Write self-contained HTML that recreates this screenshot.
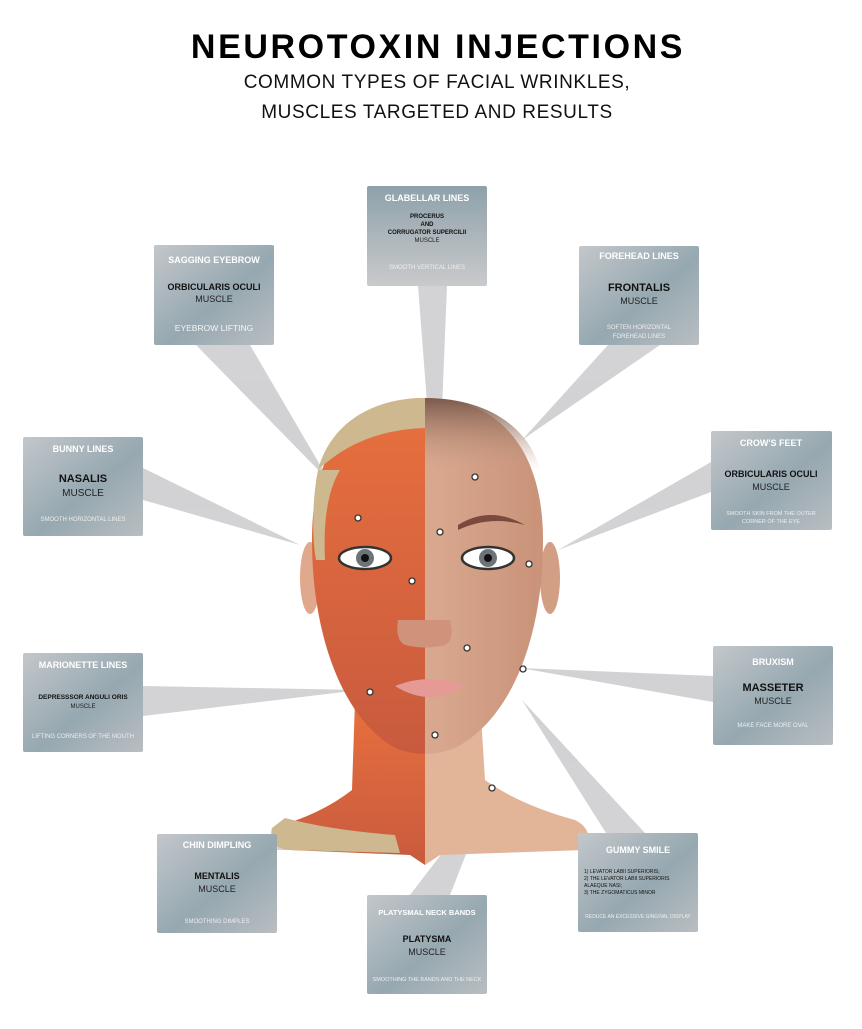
<!DOCTYPE html>
<html><head><meta charset="utf-8"><style>
body{margin:0;background:#fff;width:862px;height:1024px;overflow:hidden;font-family:"Liberation Sans",sans-serif}
</style></head><body>
<svg width="862" height="1024" viewBox="0 0 862 1024" xmlns="http://www.w3.org/2000/svg" font-family="Liberation Sans, sans-serif">
<defs>
<linearGradient id="bx" x1="0" y1="0" x2="1" y2="1">
<stop offset="0" stop-color="#c3c7cb"/><stop offset="0.55" stop-color="#96a8b0"/><stop offset="1" stop-color="#b9bec2"/></linearGradient>
<linearGradient id="bxv" x1="0" y1="0" x2="0" y2="1">
<stop offset="0" stop-color="#8ea1aa"/><stop offset="1" stop-color="#c9cacc"/></linearGradient>
<linearGradient id="mus" x1="0" y1="0" x2="0" y2="1">
<stop offset="0" stop-color="#e8703e"/><stop offset="1" stop-color="#c85a3e"/></linearGradient>
<linearGradient id="skin" x1="0" y1="0" x2="1" y2="0">
<stop offset="0" stop-color="#e9c0a5"/><stop offset="1" stop-color="#c99279"/></linearGradient>
<linearGradient id="top" x1="0" y1="0" x2="0" y2="1">
<stop offset="0" stop-color="#7a5a4c"/><stop offset="1" stop-color="#c79c86" stop-opacity="0"/></linearGradient>
<clipPath id="L"><rect x="0" y="0" width="425" height="1024"/></clipPath>
<clipPath id="R"><rect x="425" y="0" width="437" height="1024"/></clipPath>
</defs>
<text x="438" y="58" text-anchor="middle" font-size="34" font-weight="bold" fill="#000" letter-spacing="2.6">NEUROTOXIN INJECTIONS</text>
<text x="437" y="88" text-anchor="middle" font-size="19" fill="#111" letter-spacing="0.6">COMMON TYPES OF FACIAL WRINKLES,</text>
<text x="437" y="118" text-anchor="middle" font-size="19" fill="#111" letter-spacing="0.6">MUSCLES TARGETED AND RESULTS</text>

<g fill="#c8c8ca" opacity="0.8">
<polygon points="418,286 447,286 437,532"/>
<polygon points="196,345 250,345 330,482"/>
<polygon points="608,345 660,345 522,440"/>
<polygon points="143,468 143,500 300,545"/>
<polygon points="711,462 711,492 558,550"/>
<polygon points="143,686 143,716 360,690"/>
<polygon points="713,676 713,702 520,668"/>
<polygon points="260,850 300,850 330,812"/>
<polygon points="410,895 450,895 492,788"/>
<polygon points="606,833 645,833 522,700"/>
</g>

<path d="M355,700 L352,790 Q320,815 272,828 Q268,848 290,850 L410,855 L425,865 L440,855 L585,850 Q595,830 575,820 Q520,805 485,780 L480,700 Z" fill="url(#mus)" clip-path="url(#L)"/>
<path d="M355,700 L352,790 Q320,815 272,828 Q268,848 290,850 L410,855 L425,865 L440,855 L585,850 Q595,830 575,820 Q520,805 485,780 L480,700 Z" fill="#e2b498" clip-path="url(#R)"/>
<path d="M272,828 Q268,848 290,850 L400,853 L395,835 Q330,830 285,818 Z" fill="#cdb890"/>
<ellipse cx="310" cy="578" rx="10" ry="36" fill="#e0a88c"/>
<ellipse cx="550" cy="578" rx="10" ry="36" fill="#d29e84"/>
<path d="M425,398 C350,398 312,450 312,540 C312,640 345,720 395,748 Q425,760 455,748 C510,720 543,640 543,540 C543,450 500,398 425,398 Z" fill="url(#mus)" clip-path="url(#L)"/>
<path d="M425,398 C350,398 312,450 312,540 C312,640 345,720 395,748 Q425,760 455,748 C510,720 543,640 543,540 C543,450 500,398 425,398 Z" fill="url(#skin)" clip-path="url(#R)"/>
<path d="M425,398 C370,398 330,425 318,470 Q360,430 425,428 Z" fill="#cdb890"/>
<path d="M318,470 C312,500 312,540 316,560 L325,560 Q322,500 340,470 Z" fill="#cdb890"/>
<path d="M425,398 C490,398 530,430 540,470 L425,470 Z" fill="url(#top)" clip-path="url(#R)"/>
<path d="M458,525 Q490,505 525,525 Q490,515 458,530 Z" fill="#7a4a3e"/>
<ellipse cx="365" cy="558" rx="26" ry="11" fill="#fff" stroke="#333" stroke-width="2.5"/>
<circle cx="365" cy="558" r="9" fill="#6d7478"/><circle cx="365" cy="558" r="4" fill="#111"/>
<ellipse cx="488" cy="558" rx="26" ry="11" fill="#fff" stroke="#333" stroke-width="2.5"/>
<circle cx="488" cy="558" r="9" fill="#6d7478"/><circle cx="488" cy="558" r="4" fill="#111"/>
<path d="M398,620 Q395,640 405,645 Q425,650 445,645 Q455,640 450,620 Z" fill="#d0927a"/>
<path d="M395,686 Q430,672 465,686 Q430,708 395,686 Z" fill="#e59a96"/>
<g fill="#fff" stroke="#333" stroke-width="1.3">
<circle cx="475" cy="477" r="3"/><circle cx="358" cy="518" r="3"/><circle cx="440" cy="532" r="3"/>
<circle cx="412" cy="581" r="3"/><circle cx="529" cy="564" r="3"/><circle cx="467" cy="648" r="3"/>
<circle cx="523" cy="669" r="3"/><circle cx="370" cy="692" r="3"/><circle cx="435" cy="735" r="3"/>
<circle cx="492" cy="788" r="3"/>
</g>

<g font-size="9" text-anchor="middle">
<rect x="367" y="186" width="120" height="100" rx="2" fill="url(#bxv)"/>
<text x="427" y="201" fill="#fff" font-weight="bold">GLABELLAR LINES</text>
<text x="427" y="218" font-size="6" font-weight="bold" fill="#111">PROCERUS</text>
<text x="427" y="226" font-size="6" font-weight="bold" fill="#111">AND</text>
<text x="427" y="234" font-size="6" font-weight="bold" fill="#111">CORRUGATOR SUPERCILII</text>
<text x="427" y="242" font-size="6" fill="#222">MUSCLE</text>
<text x="427" y="269" font-size="6" fill="#eee">SMOOTH VERTICAL LINES</text>
<rect x="154" y="245" width="120" height="100" rx="2" fill="url(#bx)"/>
<text x="214" y="263" fill="#fff" font-weight="bold">SAGGING EYEBROW</text>
<text x="214" y="290" font-size="9" font-weight="bold" fill="#111">ORBICULARIS OCULI</text>
<text x="214" y="302" font-size="9" fill="#222">MUSCLE</text>
<text x="214" y="331" font-size="8.5" fill="#f4f4f4">EYEBROW LIFTING</text>
<rect x="579" y="246" width="120" height="99" rx="2" fill="url(#bx)"/>
<text x="639" y="259" fill="#fff" font-weight="bold">FOREHEAD LINES</text>
<text x="639" y="291" font-size="11" font-weight="bold" fill="#111">FRONTALIS</text>
<text x="639" y="304" font-size="9" fill="#222">MUSCLE</text>
<text x="639" y="329" font-size="6" fill="#eee">SOFTEN HORIZONTAL</text>
<text x="639" y="338" font-size="6" fill="#eee">FOREHEAD LINES</text>
<rect x="23" y="437" width="120" height="99" rx="2" fill="url(#bx)"/>
<text x="83" y="452" fill="#fff" font-weight="bold">BUNNY LINES</text>
<text x="83" y="482" font-size="11" font-weight="bold" fill="#111">NASALIS</text>
<text x="83" y="496" font-size="10" fill="#222">MUSCLE</text>
<text x="83" y="521" font-size="6" fill="#eee">SMOOTH HORIZONTAL LINES</text>
<rect x="711" y="431" width="121" height="99" rx="2" fill="url(#bx)"/>
<text x="771" y="446" fill="#fff" font-weight="bold">CROW'S FEET</text>
<text x="771" y="477" font-size="9" font-weight="bold" fill="#111">ORBICULARIS OCULI</text>
<text x="771" y="490" font-size="9" fill="#222">MUSCLE</text>
<text x="771" y="515" font-size="5.5" fill="#eee">SMOOTH SKIN FROM THE OUTER</text>
<text x="771" y="523" font-size="5.5" fill="#eee">CORNER OF THE EYE</text>
<rect x="23" y="653" width="120" height="99" rx="2" fill="url(#bx)"/>
<text x="83" y="668" fill="#fff" font-weight="bold">MARIONETTE LINES</text>
<text x="83" y="699" font-size="6.5" font-weight="bold" fill="#111">DEPRESSSOR ANGULI ORIS</text>
<text x="83" y="708" font-size="6" fill="#222">MUSCLE</text>
<text x="83" y="738" font-size="6" fill="#eee">LIFTING CORNERS OF THE MOUTH</text>
<rect x="713" y="646" width="120" height="99" rx="2" fill="url(#bx)"/>
<text x="773" y="665" fill="#fff" font-weight="bold">BRUXISM</text>
<text x="773" y="691" font-size="11" font-weight="bold" fill="#111">MASSETER</text>
<text x="773" y="704" font-size="9" fill="#222">MUSCLE</text>
<text x="773" y="727" font-size="6" fill="#eee">MAKE FACE MORE OVAL</text>
<rect x="157" y="834" width="120" height="99" rx="2" fill="url(#bx)"/>
<text x="217" y="848" fill="#fff" font-weight="bold">CHIN DIMPLING</text>
<text x="217" y="879" font-size="9" font-weight="bold" fill="#111">MENTALIS</text>
<text x="217" y="892" font-size="9" fill="#222">MUSCLE</text>
<text x="217" y="923" font-size="6" fill="#eee">SMOOTHING DIMPLES</text>
<rect x="367" y="895" width="120" height="99" rx="2" fill="url(#bx)"/>
<text x="427" y="915" font-size="7.5" fill="#fff" font-weight="bold">PLATYSMAL NECK BANDS</text>
<text x="427" y="942" font-size="9" font-weight="bold" fill="#111">PLATYSMA</text>
<text x="427" y="955" font-size="9" fill="#222">MUSCLE</text>
<text x="427" y="981" font-size="5.5" fill="#eee">SMOOTHING THE BANDS  AND THE NECK</text>
<rect x="578" y="833" width="120" height="99" rx="2" fill="url(#bx)"/>
<text x="638" y="853" fill="#fff" font-weight="bold">GUMMY SMILE</text>
<g text-anchor="start" font-size="5" fill="#111">
<text x="584" y="873">1) LEVATOR LABII SUPERIORIS;</text>
<text x="584" y="880">2) THE LEVATOR LABII SUPERIORIS</text>
<text x="584" y="887">ALAEQUE NASI;</text>
<text x="584" y="894">3) THE ZYGOMATICUS MINOR</text>
</g>
<text x="638" y="918" font-size="5" fill="#eee">REDUCE AN EXCESSIVE GINGIVAL DISPLAY</text>
</g>
</svg>
</body></html>
